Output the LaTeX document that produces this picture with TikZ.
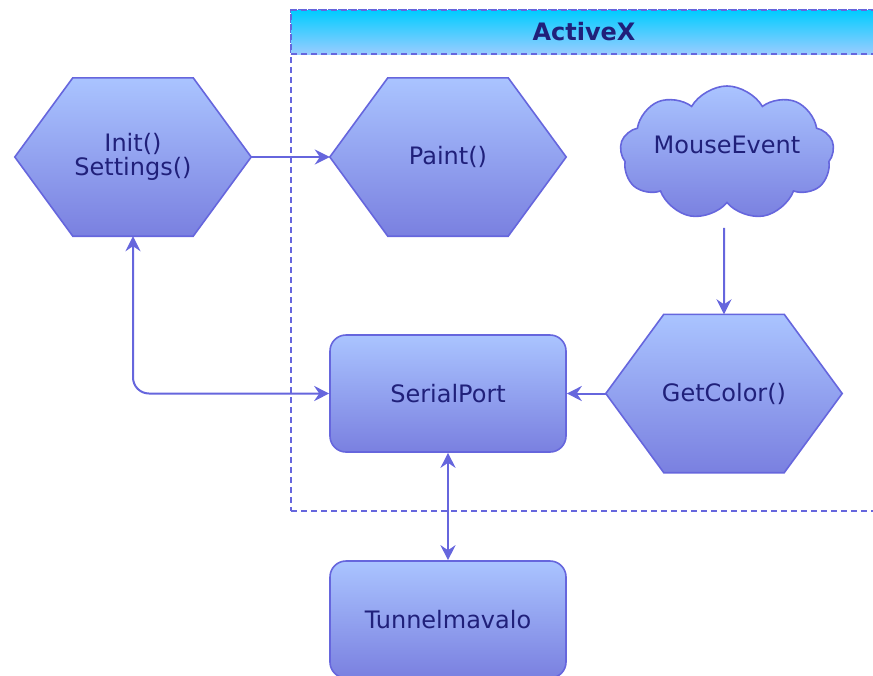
\documentclass[tikz,border=0pt]{standalone}
\usepackage{fontspec}
\setmainfont{DejaVu Sans}
\usetikzlibrary{arrows.meta,shapes.symbols}
\definecolor{edge}{RGB}{102,102,221}
\definecolor{ink}{RGB}{32,32,122}
\definecolor{filltop}{RGB}{170,196,255}
\definecolor{fillbot}{RGB}{122,128,224}
\definecolor{headtop}{RGB}{0,204,255}
\definecolor{headbot}{RGB}{153,204,255}
\pgfdeclarelayer{background}
\pgfsetlayers{background,main}
% hexagon outline around a rectangular node, corners cut by 58pt
\newcommand\hexoutline[1]{%
  \path[hexfill] ([xshift=58pt]#1.north west) -- ([xshift=-58pt]#1.north east)
    -- (#1.east) -- ([xshift=-58pt]#1.south east)
    -- ([xshift=58pt]#1.south west) -- (#1.west) -- cycle;}
\begin{document}
\begin{tikzpicture}[x=1pt,y=-1pt,
  font=\fontsize{24}{24}\selectfont,
  every node/.style={text=ink},
  frame/.style={draw=edge, line width=1.6pt, dash pattern=on 6pt off 4pt, inner sep=0pt},
  hexbox/.style={minimum width=236pt, minimum height=158pt, inner sep=0pt, align=center},
  hexfill/.style={draw=edge, line width=1.6pt, top color=filltop, bottom color=fillbot, line join=miter},
  roundbox/.style={draw=edge, line width=1.6pt, rounded corners=16pt, top color=filltop,
    bottom color=fillbot, minimum width=236pt, minimum height=117pt, inner sep=0pt},
  cloudbox/.style={cloud, cloud puffs=9, cloud puff arc=120, cloud ignores aspect,
    draw=edge, line width=1.6pt, top color=filltop, bottom color=fillbot,
    minimum width=214pt, minimum height=134pt, inner sep=0pt},
  conn/.style={draw=edge, line width=2pt, -{Stealth[length=15pt,width=15pt,inset=5pt]}},
  both/.style={draw=edge, line width=2pt,
    {Stealth[length=15pt,width=15pt,inset=5pt]}-{Stealth[length=15pt,width=15pt,inset=5pt]}}]

\useasboundingbox (0,0) rectangle (873,675);

% ActiveX container with its header
\begin{pgfonlayer}{background}
  \node[frame, minimum width=586pt, minimum height=501pt] (activex) at (584,260.5) {};
  \node[frame, top color=headtop, bottom color=headbot, minimum width=586pt,
    minimum height=44pt, font=\fontsize{24}{24}\selectfont\bfseries] (activexhead) at (584,32) {ActiveX};
\end{pgfonlayer}

% function nodes
\node[hexbox] (init) at (133,157) {Init()\\Settings()};
\node[hexbox] (paint) at (448,157) {Paint()};
\node[hexbox] (getcolor) at (724,393.5) {GetColor()};
\node[cloudbox, label={[yshift=8pt]center:MouseEvent}] (mouse) at (727,153) {};
\node[roundbox] (serial) at (448,393.5) {SerialPort};
\node[roundbox] (tunnel) at (448,619.5) {Tunnelmavalo};

\begin{pgfonlayer}{background}
  \hexoutline{init}
  \hexoutline{paint}
  \hexoutline{getcolor}
\end{pgfonlayer}

% connectors
\draw[conn, shorten <=24pt] ([xshift=-3pt]mouse.south) -- (getcolor.north);
\draw[conn] (init.east) -- (paint.west);
\draw[conn] (getcolor.west) -- (serial.east);
\draw[both, rounded corners=16pt] (init.south) |- (serial.west);
\draw[both] (serial.south) -- (tunnel.north);
\end{tikzpicture}
\end{document}
